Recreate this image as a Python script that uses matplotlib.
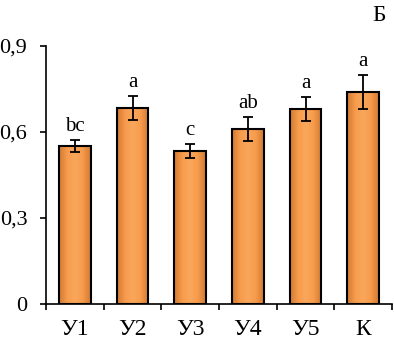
import numpy as np
import matplotlib.pyplot as plt
from matplotlib.colors import LinearSegmentedColormap

# Data
categories = ['У1', 'У2', 'У3', 'У4', 'У5', 'К']
values = [0.551, 0.684, 0.534, 0.61, 0.68, 0.74]
errors = [0.022, 0.043, 0.025, 0.043, 0.042, 0.06]
letters = ['bc', 'a', 'c', 'ab', 'a', 'a']
yticks = [0, 0.3, 0.6, 0.9]
yticklabels = ['0', '0,3', '0,6', '0,9']

plt.rcParams['font.family'] = ['Liberation Serif', 'DejaVu Serif']

fig = plt.figure(figsize=(3.94, 3.43), dpi=100)
ax = fig.add_axes([0.117, 0.1137, 0.878, 0.7522])

x = np.arange(len(categories))
bars = ax.bar(x, values, width=0.55, color='#F59A4C', edgecolor='black',
              linewidth=1.5, zorder=2)

# Horizontal shading to give bars a rounded look
cmap = LinearSegmentedColormap.from_list('bar', ['#D07A34', '#F79B4C', '#F9A75C', '#F79B4C', '#D07A34'])
grad = np.linspace(0, 1, 64).reshape(1, -1)
for b in bars:
    bx, by = b.get_x(), b.get_y()
    im = ax.imshow(grad, extent=[bx, bx + b.get_width(), by, by + b.get_height()],
                   cmap=cmap, aspect='auto', zorder=2.1)
    im.set_clip_path(b)
    b.set_facecolor('none')
    b.set_zorder(2.2)

ax.errorbar(x, values, yerr=errors, fmt='none', ecolor='black', elinewidth=1.3,
            capsize=3.5, capthick=1.3, zorder=3)

for xi, v, e, t in zip(x, values, errors, letters):
    ax.text(xi, v + e + 0.014, t, ha='center', va='bottom', fontsize=15)

ax.set_xlim(-0.5, len(categories) - 0.5)
ax.set_ylim(0, 0.9)
ax.set_yticks(yticks)
ax.set_yticklabels(yticklabels, fontsize=16)
ax.set_xticks(np.arange(len(categories) + 1) - 0.5)
ax.set_xticklabels([])
ax.set_xticks(x, minor=True)
ax.set_xticklabels(categories, minor=True, fontsize=17)
ax.tick_params(axis='x', which='minor', length=0, pad=11)
ax.tick_params(axis='x', which='major', length=4.5, width=1.2, direction='out')
ax.tick_params(axis='y', length=4.5, width=1.2, direction='out', pad=9)

for s in ['top', 'right']:
    ax.spines[s].set_visible(False)
for s in ['left', 'bottom']:
    ax.spines[s].set_linewidth(1.2)

fig.text(0.945, 0.955, 'Б', ha='left', va='center', fontsize=17)

fig.savefig('out.png', dpi=100)
